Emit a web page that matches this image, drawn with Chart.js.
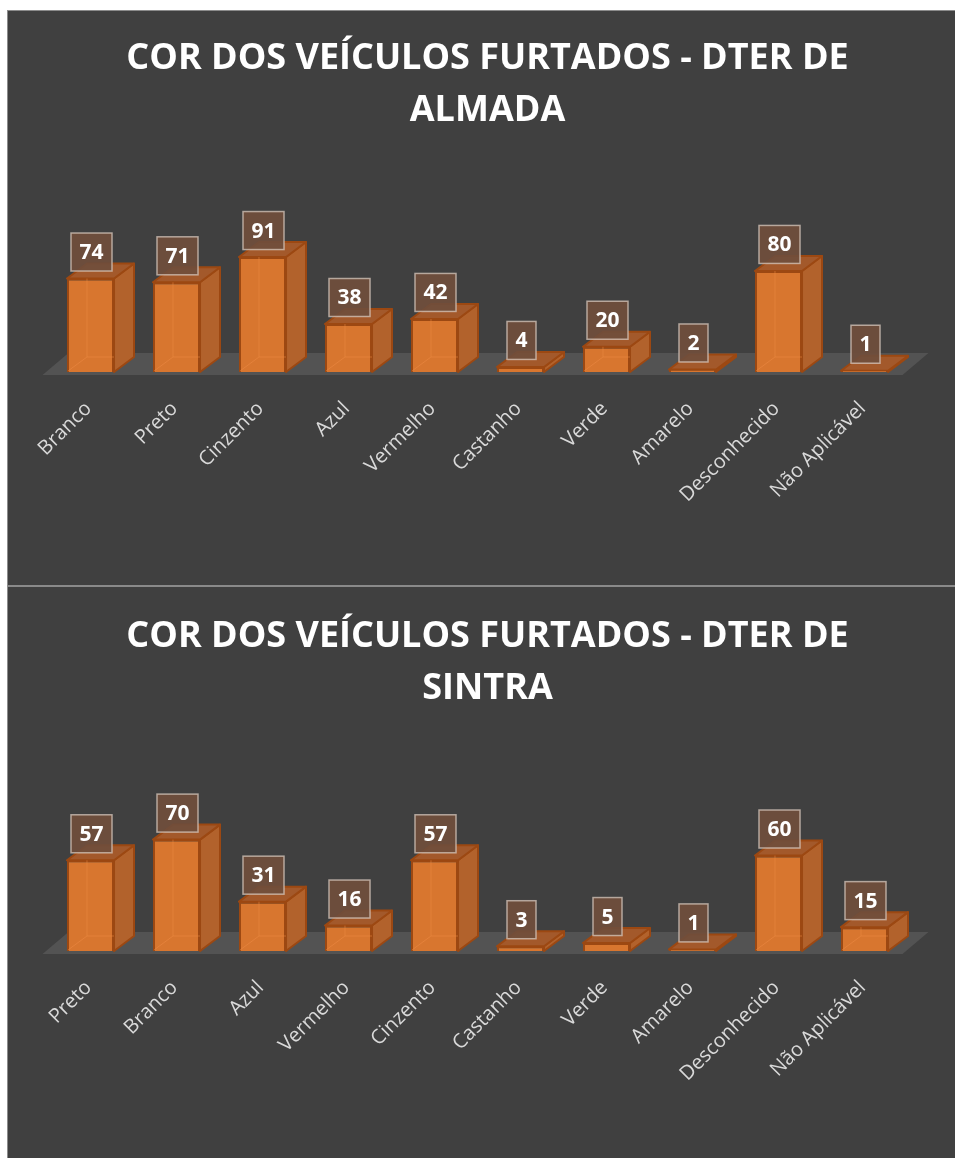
<!DOCTYPE html>
<html>
<head>
<meta charset="utf-8">
<script src="https://cdn.jsdelivr.net/npm/chart.js@4"></script>
<style>
  body { margin: 0; background: #fff; }
  .frame { position: absolute; left: 7px; top: 10px; width: 948px; height: 1148px; background: #404040;
           border-left: 1px solid #8c8c8c; border-top: 1px solid #8c8c8c; box-sizing: border-box; }
  .sep { position: absolute; left: 8px; top: 585px; width: 947px; height: 2px; background: #8a8a8a; }
  canvas { position: absolute; left: 8px; }
</style>
</head>
<body>
<div class="frame"></div>
<canvas id="almada" width="947" height="574" style="top:11px"></canvas>
<div class="sep"></div>
<canvas id="sintra" width="947" height="571" style="top:587px"></canvas>
<script>
// Almada
const almadaLabels = ['Branco', 'Preto', 'Cinzento', 'Azul', 'Vermelho', 'Castanho', 'Verde', 'Amarelo', 'Desconhecido', 'Não Aplicável'];
const almadaValues = [74, 71, 91, 38, 42, 4, 20, 2, 80, 1];
const almadaTitle = ['COR DOS VEÍCULOS FURTADOS - DTER DE', 'ALMADA'];
// Sintra
const sintraLabels = ['Preto', 'Branco', 'Azul', 'Vermelho', 'Cinzento', 'Castanho', 'Verde', 'Amarelo', 'Desconhecido', 'Não Aplicável'];
const sintraValues = [57, 70, 31, 16, 57, 3, 5, 1, 60, 15];
const sintraTitle = ['COR DOS VEÍCULOS FURTADOS - DTER DE', 'SINTRA'];

const DX = 20, DY = 15;
const frontColor = '#d8762f';
const sideColor = '#b2622c';
const topColor = '#a3592b';
const edgeColor = '#9c4812';
const floorColor = '#535353';

function poly(ctx, pts) {
    ctx.beginPath();
    ctx.moveTo(pts[0][0], pts[0][1]);
    pts.slice(1).forEach(p => ctx.lineTo(p[0], p[1]));
    ctx.closePath();
}

// fake 3d: floor + side/top faces behind the normal bars, value boxes on top
const bar3d = {
    id: 'bar3d',
    beforeDatasetsDraw(chart) {
        const { ctx, chartArea } = chart;
        const y0 = chart.scales.y.getPixelForValue(0);
        ctx.save();
        ctx.fillStyle = floorColor;
        poly(ctx, [[chartArea.left - 5, y0 + 3], [chartArea.right - 5, y0 + 3],
                   [chartArea.right + 21, y0 - 19], [chartArea.left + 21, y0 - 19]]);
        ctx.fill();
        ctx.lineWidth = 2;
        ctx.lineJoin = 'round';
        ctx.strokeStyle = edgeColor;
        chart.getDatasetMeta(0).data.forEach(bar => {
            const { x, y, base, width } = bar.getProps(['x', 'y', 'base', 'width'], true);
            const l = x - width / 2, r = x + width / 2;
            ctx.fillStyle = sideColor;
            poly(ctx, [[r, y], [r + DX, y - DY], [r + DX, base - DY], [r, base]]);
            ctx.fill(); ctx.stroke();
            ctx.fillStyle = topColor;
            poly(ctx, [[l, y], [l + DX, y - DY], [r + DX, y - DY], [r, y]]);
            ctx.fill(); ctx.stroke();
        });
        ctx.restore();
    },
    afterDatasetsDraw(chart) {
        const { ctx } = chart;
        const values = chart.data.datasets[0].data;
        ctx.save();
        // faint back edges seen through the front face
        ctx.strokeStyle = 'rgba(240,140,70,0.5)';
        ctx.lineWidth = 1;
        chart.getDatasetMeta(0).data.forEach(bar => {
            const { x, y, base, width } = bar.getProps(['x', 'y', 'base', 'width'], true);
            const l = x - width / 2;
            if (base - y < DY) return;
            ctx.beginPath();
            ctx.moveTo(l + 1, base - 1);
            ctx.lineTo(l + DX, base - DY);
            ctx.lineTo(l + DX, y);
            ctx.moveTo(l + DX, base - DY);
            ctx.lineTo(l + width, base - DY);
            ctx.stroke();
        });
        // value boxes
        ctx.font = 'bold 21px "Open Sans"';
        ctx.textAlign = 'center';
        ctx.textBaseline = 'middle';
        chart.getDatasetMeta(0).data.forEach((bar, i) => {
            const { x, y } = bar.getProps(['x', 'y'], true);
            const txt = String(values[i]);
            const w = ctx.measureText(txt).width + 17;
            const h = 38;
            const cx = x + 1, cy = y - 26.5;
            ctx.fillStyle = 'rgba(112,78,60,0.92)';
            ctx.fillRect(cx - w / 2, cy - h / 2, w, h);
            ctx.strokeStyle = 'rgba(215,200,190,0.75)';
            ctx.lineWidth = 1.5;
            ctx.strokeRect(cx - w / 2, cy - h / 2, w, h);
            ctx.fillStyle = '#ffffff';
            ctx.fillText(txt, cx, cy + 1);
        });
        ctx.restore();
    }
};

function makeChart(id, labels, values, title, yMax, titleTop, axisHeight) {
    const ctx = document.getElementById(id).getContext('2d');
    return new Chart(ctx, {
        type: 'bar',
        data: {
            labels: labels,
            datasets: [{
                data: values,
                backgroundColor: frontColor,
                borderColor: edgeColor,
                borderWidth: 2,
                barPercentage: 0.547,
                categoryPercentage: 1.0
            }]
        },
        options: {
            responsive: false,
            animation: false,
            layout: { padding: { left: 39.5, right: 27.5, top: 0, bottom: 0 } },
            plugins: {
                legend: { display: false },
                tooltip: { enabled: false },
                title: {
                    display: true,
                    text: title,
                    color: '#ffffff',
                    font: { family: 'Open Sans', size: 36, weight: 'bold', lineHeight: 1.44 },
                    padding: { top: titleTop, bottom: 109 }
                }
            },
            scales: {
                x: {
                    grid: { display: false },
                    border: { display: false },
                    ticks: {
                        color: '#d9d9d9',
                        font: { family: 'Open Sans', size: 20 },
                        minRotation: 45,
                        maxRotation: 45,
                        autoSkip: false,
                        padding: 17,
                        labelOffset: -2
                    },
                    afterFit: (scale) => { scale.height = axisHeight; }
                },
                y: {
                    position: 'right',
                    min: 0,
                    max: yMax,
                    grid: { display: false },
                    border: { display: false },
                    ticks: { display: false },
                    afterFit: (scale) => { scale.width = 20; }
                }
            }
        },
        plugins: [bar3d]
    });
}

Promise.all([
    document.fonts.load('bold 36px "Open Sans"'),
    document.fonts.load('20px "Open Sans"')
]).catch(() => {}).then(() => {
    makeChart('almada', almadaLabels, almadaValues, almadaTitle, 100, 22, 213);
    makeChart('sintra', sintraLabels, sintraValues, sintraTitle, 80, 24, 207);
});
</script>
</body>
</html>
